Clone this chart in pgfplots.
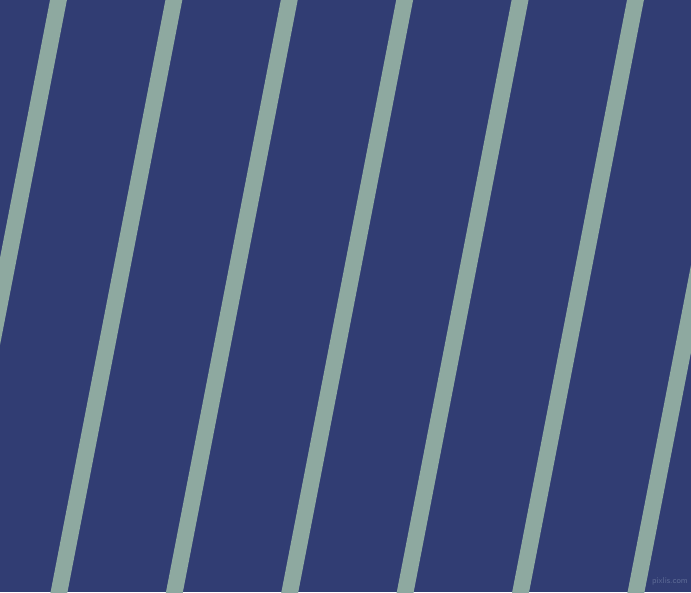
\documentclass[border=0pt]{standalone}
\usepackage{pgfplots}
\pgfplotsset{compat=1.18}
\definecolor{bgblue}{HTML}{313D73}
\definecolor{stripe}{HTML}{8EA9A0}
\definecolor{mark}{HTML}{5F6C97}
\begin{document}
\begin{tikzpicture}
  \begin{axis}[
      width=691pt, height=592pt, scale only axis,
      xmin=0, xmax=691, ymin=0, ymax=592,
      y dir=reverse,
      hide axis,
      clip=true,
      axis background/.style={fill=bgblue},
      cycle list={{stripe,solid}},
      every axis plot post/.append style={draw=stripe, solid, line width=16.6pt, line cap=butt, mark=none},
    ]
    % stripes: x at y=-10 and at y=602 (slope dx/dy = -0.194)
    \addplot coordinates {(60.4,-10) (-58.3,602)};
    \addplot coordinates {(175.8,-10) (57.1,602)};
    \addplot coordinates {(291.2,-10) (172.5,602)};
    \addplot coordinates {(406.6,-10) (287.9,602)};
    \addplot coordinates {(522.0,-10) (403.3,602)};
    \addplot coordinates {(637.4,-10) (518.7,602)};
    \addplot coordinates {(752.8,-10) (634.1,602)};
    \node[anchor=east, font=\sffamily\fontsize{8.5}{8.5}\selectfont, text=mark, inner sep=0pt]
      at (axis cs:688,581) {pixlis.com};
  \end{axis}
  \pgfresetboundingbox
  \path (current axis.south west) rectangle (current axis.north east);
\end{tikzpicture}
\end{document}
